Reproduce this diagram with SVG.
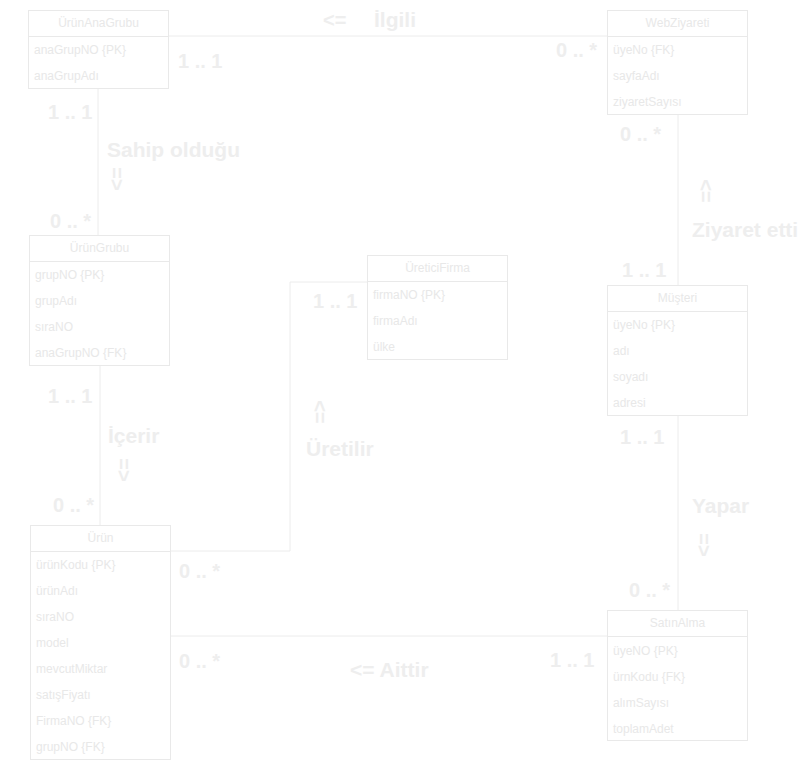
<svg xmlns="http://www.w3.org/2000/svg" width="810" height="762" viewBox="0 0 810 762">
<style>
.box{fill:#ffffff;stroke:#e9e9e9;stroke-width:1}
.div{stroke:#e9e9e9;stroke-width:1}
.hdr{font-family:"Liberation Sans",Arial,sans-serif;font-size:12px;fill:#e8e8e8;text-anchor:middle}
.att{font-family:"Liberation Sans",Arial,sans-serif;font-size:12px;fill:#e8e8e8}
.lbl{font-family:"Liberation Sans",Arial,sans-serif;font-size:20px;font-weight:bold;fill:#eeeeee}
.wrd{font-family:"Liberation Sans",Arial,sans-serif;font-size:21px;font-weight:bold;fill:#eeeeee}
.arr{font-family:"Liberation Sans",Arial,sans-serif;font-size:20px;font-weight:bold;fill:#eeeeee;text-anchor:middle}
.con{fill:none;stroke:#ececec;stroke-width:1}
</style>
<rect width="810" height="762" fill="#ffffff"/>
<g id="connectors">
<polyline class="con" points="168,36 607,36"/>
<polyline class="con" points="98,88 98,235"/>
<polyline class="con" points="100,365 100,525"/>
<polyline class="con" points="171,551 290,551 290,282 367,282"/>
<polyline class="con" points="171,636 607,636"/>
<polyline class="con" points="678,114 678,285"/>
<polyline class="con" points="678,415 678,610"/>
</g>
<g id="labels">
<text class="lbl" x="323" y="27">&lt;=</text>
<text class="wrd" x="374" y="27">İlgili</text>
<text class="lbl" x="178" y="68">1 .. 1</text>
<text class="lbl" x="556" y="57">0 .. *</text>
<text class="lbl" x="48" y="119">1 .. 1</text>
<text class="wrd" x="107" y="157">Sahip olduğu</text>
<text class="arr" transform="translate(110,179) rotate(90)">=&gt;</text>
<text class="lbl" x="50" y="228">0 .. *</text>
<text class="lbl" x="48" y="403">1 .. 1</text>
<text class="wrd" x="108" y="443">İçerir</text>
<text class="arr" transform="translate(117,470) rotate(90)">=&gt;</text>
<text class="lbl" x="53" y="512">0 .. *</text>
<text class="lbl" x="313" y="308">1 .. 1</text>
<text class="arr" transform="translate(313,412) rotate(90)">&lt;=</text>
<text class="wrd" x="306" y="456">Üretilir</text>
<text class="lbl" x="179" y="578">0 .. *</text>
<text class="lbl" x="179" y="668">0 .. *</text>
<text class="wrd" x="350" y="677">&lt;= Aittir</text>
<text class="lbl" x="550" y="667">1 .. 1</text>
<text class="lbl" x="620" y="141">0 .. *</text>
<text class="arr" transform="translate(699,191) rotate(90)">&lt;=</text>
<text class="wrd" x="692" y="237">Ziyaret etti</text>
<text class="lbl" x="622" y="277">1 .. 1</text>
<text class="lbl" x="620" y="444">1 .. 1</text>
<text class="wrd" x="692" y="513">Yapar</text>
<text class="arr" transform="translate(697,545) rotate(90)">=&gt;</text>
<text class="lbl" x="629" y="597">0 .. *</text>
</g>
<g id="UrunAnaGrubu">
<rect class="box" x="28.5" y="10.5" width="140" height="78"/>
<line class="div" x1="28.5" y1="36.5" x2="168.5" y2="36.5"/>
<text class="hdr" x="98.5" y="27">ÜrünAnaGrubu</text>
<text class="att" x="34" y="54">anaGrupNO {PK}</text>
<text class="att" x="34" y="80">anaGrupAdı</text>
</g>
<g id="WebZiyareti">
<rect class="box" x="607.5" y="10.5" width="140" height="104"/>
<line class="div" x1="607.5" y1="36.5" x2="747.5" y2="36.5"/>
<text class="hdr" x="677.5" y="27">WebZiyareti</text>
<text class="att" x="613" y="54">üyeNo {FK}</text>
<text class="att" x="613" y="80">sayfaAdı</text>
<text class="att" x="613" y="106">ziyaretSayısı</text>
</g>
<g id="UrunGrubu">
<rect class="box" x="29.5" y="235.5" width="140" height="130"/>
<line class="div" x1="29.5" y1="261.5" x2="169.5" y2="261.5"/>
<text class="hdr" x="99.5" y="252">ÜrünGrubu</text>
<text class="att" x="35" y="279">grupNO {PK}</text>
<text class="att" x="35" y="305">grupAdı</text>
<text class="att" x="35" y="331">sıraNO</text>
<text class="att" x="35" y="357">anaGrupNO {FK}</text>
</g>
<g id="UreticiFirma">
<rect class="box" x="367.5" y="255.5" width="140" height="104"/>
<line class="div" x1="367.5" y1="281.5" x2="507.5" y2="281.5"/>
<text class="hdr" x="437.5" y="272">ÜreticiFirma</text>
<text class="att" x="373" y="299">firmaNO {PK}</text>
<text class="att" x="373" y="325">firmaAdı</text>
<text class="att" x="373" y="351">ülke</text>
</g>
<g id="Musteri">
<rect class="box" x="607.5" y="285.5" width="140" height="130"/>
<line class="div" x1="607.5" y1="311.5" x2="747.5" y2="311.5"/>
<text class="hdr" x="677.5" y="302">Müşteri</text>
<text class="att" x="613" y="329">üyeNo {PK}</text>
<text class="att" x="613" y="355">adı</text>
<text class="att" x="613" y="381">soyadı</text>
<text class="att" x="613" y="407">adresi</text>
</g>
<g id="Urun">
<rect class="box" x="30.5" y="525.5" width="140" height="234"/>
<line class="div" x1="30.5" y1="551.5" x2="170.5" y2="551.5"/>
<text class="hdr" x="100.5" y="542">Ürün</text>
<text class="att" x="36" y="569">ürünKodu {PK}</text>
<text class="att" x="36" y="595">ürünAdı</text>
<text class="att" x="36" y="621">sıraNO</text>
<text class="att" x="36" y="647">model</text>
<text class="att" x="36" y="673">mevcutMiktar</text>
<text class="att" x="36" y="699">satışFiyatı</text>
<text class="att" x="36" y="725">FirmaNO {FK}</text>
<text class="att" x="36" y="751">grupNO {FK}</text>
</g>
<g id="SatinAlma">
<rect class="box" x="607.5" y="610.5" width="140" height="130"/>
<line class="div" x1="607.5" y1="636.5" x2="747.5" y2="636.5"/>
<text class="hdr" x="677.5" y="627">SatınAlma</text>
<text class="att" x="613" y="655">üyeNO {PK}</text>
<text class="att" x="613" y="681">ürnKodu {FK}</text>
<text class="att" x="613" y="707">alımSayısı</text>
<text class="att" x="613" y="733">toplamAdet</text>
</g>
</svg>
